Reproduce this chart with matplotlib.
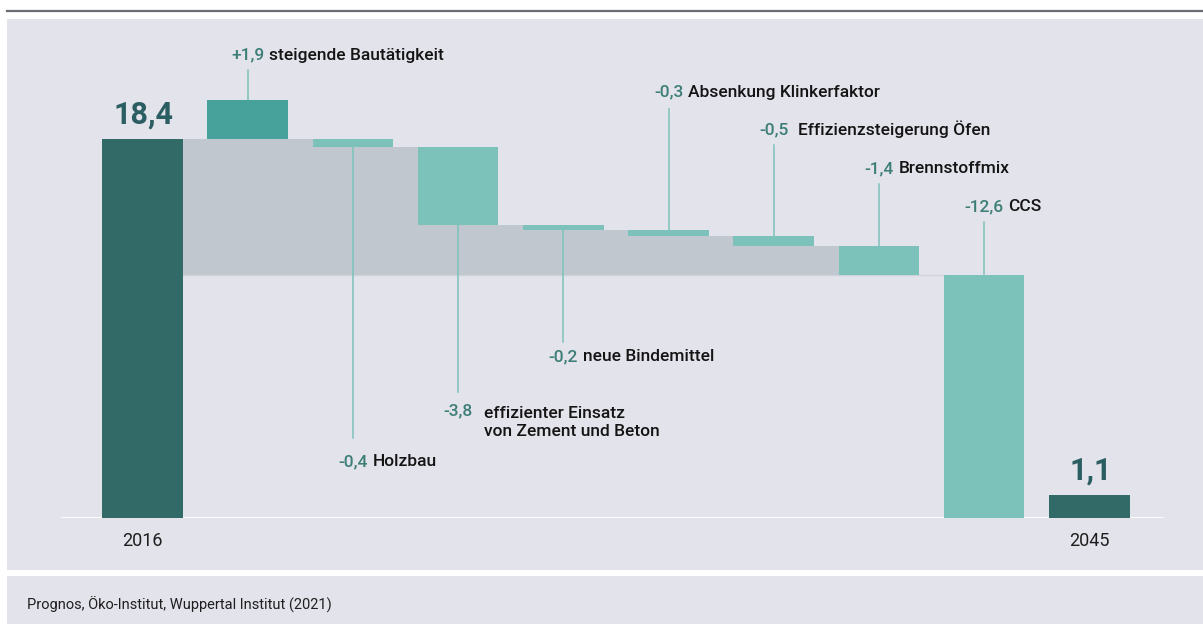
import matplotlib
matplotlib.use("Agg")
import matplotlib.pyplot as plt
from matplotlib.patches import Rectangle
from matplotlib.lines import Line2D

# ---------------- data ----------------
start_label = "2016"
end_label = "2045"
start_value = 18.4
end_value = 1.1
step_values = [1.9, -0.4, -3.8, -0.2, -0.3, -0.5, -1.4, -12.6]
step_numbers = ["+1,9", "-0,4", "-3,8", "-0,2", "-0,3", "-0,5", "-1,4", "-12,6"]
step_names = ["steigende Bautätigkeit", "Holzbau",
              "effizienter Einsatz\nvon Zement und Beton", "neue Bindemittel",
              "Absenkung Klinkerfaktor", "Effizienzsteigerung Öfen",
              "Brennstoffmix", "CCS"]
source_text = "Prognos, Öko-Institut, Wuppertal Institut (2021)"

# ---------------- layout / style ----------------
W, H = 1203, 624
PXU = 20.6                       # pixels per unit
label_y = [22.25, 2.5, 5.0, 7.6, 20.45, 18.6, 16.73, 14.88]   # first-line baselines
line_end = [21.75, 3.88, 6.12, 8.54, 19.85, 18.1, 16.2, 14.37]
name_gap = [3.5, 3.5, 8, 3.5, 3.5, 7, 3.5, 3.5]
LINE_PT = 15.2                   # line step for multi-line names (points)

C_BG = "#e3e3eb"
C_DARK = "#316a67"
C_UP = "#48a29c"
C_DOWN = "#7cc2ba"
C_GREY = "#c0c7ce"
C_NUM = "#3d7e77"
C_BIG = "#2b5e62"
FONT = "Roboto"
FS = 12.5

fig = plt.figure(figsize=(W / 100, H / 100), dpi=100)
fig.patch.set_facecolor("white")


def fig_rect(x0, y0, x1, y1, color):
    fig.add_artist(Rectangle((x0 / W, 1 - y1 / H), (x1 - x0) / W, (y1 - y0) / H,
                             transform=fig.transFigure, color=color, lw=0, zorder=-10))


fig_rect(7, 19, W, 570, C_BG)
fig_rect(7, 576, W, H, C_BG)
fig.add_artist(Line2D([7 / W, 1], [1 - 11 / H, 1 - 11 / H], transform=fig.transFigure,
                      color="#676c75", lw=1.6))
fig.text(27 / W, 1 - 605 / H, source_text, fontsize=10.5, family=FONT,
         color="#1f1f1f", va="center", ha="left")

ax = fig.add_axes([61 / W, (H - 518) / H, (1164 - 61) / W, (518 - 19) / H])
ax.set_facecolor("none")
ax.set_xlim(-0.775, 9.71)
ax.set_ylim(0, (518 - 19) / PXU)
ax.axis("off")

bw = 0.765
n = len(step_values)
xs_steps = list(range(1, n + 1))
x_end = n + 1

# step levels: increase drawn on top of start, reductions cascade from start
tops, bottoms = [], []
level = start_value
for v in step_values:
    if v > 0:
        tops.append(level + v)
        bottoms.append(level)
    else:
        tops.append(level)
        bottoms.append(max(level + v, 0))
        level = level + v
final_level = bottoms[-2]

# grey band
gx = [0 + bw / 2] + [x - bw / 2 for x in xs_steps[1:]]
gtop = [start_value] + [bottoms[i] for i in range(1, n - 1)] + [final_level]
gx = gx[:len(gtop)]
ax.fill_between(gx + [xs_steps[-1] - bw / 2], gtop + [gtop[-1]], final_level,
                step="post", color=C_GREY, lw=0, zorder=1)
ax.plot([bw / 2, xs_steps[-1] - bw / 2], [final_level, final_level],
        color="#cdd3d9", lw=1, zorder=1.5)

ax.axhline(0, color="white", lw=2, zorder=2)

# start/end bars
ax.bar([0, x_end], [start_value, end_value], width=bw, color=C_DARK, zorder=3)
for x, v in [(0, start_value), (x_end, end_value)]:
    ax.annotate(f"{v:.1f}".replace(".", ","), xy=(x, v), xytext=(1, 7),
                textcoords="offset points", ha="center", va="bottom",
                fontsize=22, fontweight="bold", family=FONT, color=C_BIG)
for x, lab in [(0, start_label), (x_end, end_label)]:
    ax.annotate(lab, xy=(x, 0), xytext=(0, -16.5), textcoords="offset points",
                ha="center", va="center", fontsize=13, family=FONT,
                color="#1e1e1e")

# step bars
for i, (x, v) in enumerate(zip(xs_steps, step_values)):
    col = C_UP if v > 0 else C_DOWN
    ax.bar(x, tops[i] - bottoms[i], bottom=bottoms[i], width=bw, color=col, zorder=3)
    y_from = tops[i] if line_end[i] > tops[i] else bottoms[i]
    ax.plot([x, x], [y_from, line_end[i]], color=C_DOWN, lw=1.1, zorder=2.5)
    num = ax.text(x, label_y[i], step_numbers[i], ha="center", va="baseline",
                  fontsize=FS, family=FONT, fontweight="medium", color=C_NUM)
    extra = step_names[i].count("\n")
    ax.annotate(step_names[i], xy=(1, label_y[i]), xycoords=(num, "data"),
                xytext=(name_gap[i], -extra * LINE_PT), textcoords="offset points",
                ha="left", va="baseline",
                fontsize=FS, family=FONT, fontweight="medium", color="#141414",
                linespacing=1.3)

fig.savefig("out.png", dpi=100, facecolor=fig.get_facecolor())
